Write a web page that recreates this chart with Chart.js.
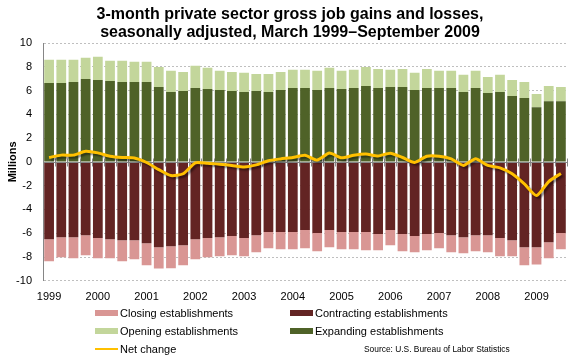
<!DOCTYPE html>
<html>
<head>
<meta charset="utf-8">
<script src="https://cdn.jsdelivr.net/npm/chart.js@4/dist/chart.umd.min.js"></script>
<style>
  html, body { margin: 0; padding: 0; background: #fff; }
  #wrap { position: relative; width: 580px; height: 360px; font-family: "Liberation Sans", Arial, sans-serif; }
  #c { position: absolute; left: 0; top: 0; }
  .lg { position: absolute; font-size: 11px; color: #000; white-space: nowrap; line-height: 14px; }
  .sw { position: absolute; width: 23px; }
  #src { position: absolute; left: 364px; top: 344px; font-size: 8.4px; color: #000; white-space: nowrap; }
</style>
</head>
<body>
<div id="wrap">
  <canvas id="c" width="580" height="360"></canvas>
  <div id="legend"></div>
  <div id="src">Source: U.S. Bureau of Labor Statistics</div>
</div>
<script>
// ---- Data (millions, quarterly, March 1999 – September 2009) ----
const quarters = [
  "Mar 1999","Jun 1999","Sep 1999","Dec 1999",
  "Mar 2000","Jun 2000","Sep 2000","Dec 2000",
  "Mar 2001","Jun 2001","Sep 2001","Dec 2001",
  "Mar 2002","Jun 2002","Sep 2002","Dec 2002",
  "Mar 2003","Jun 2003","Sep 2003","Dec 2003",
  "Mar 2004","Jun 2004","Sep 2004","Dec 2004",
  "Mar 2005","Jun 2005","Sep 2005","Dec 2005",
  "Mar 2006","Jun 2006","Sep 2006","Dec 2006",
  "Mar 2007","Jun 2007","Sep 2007","Dec 2007",
  "Mar 2008","Jun 2008","Sep 2008","Dec 2008",
  "Mar 2009","Jun 2009","Sep 2009"
];
const expanding = [6.64,6.64,6.72,6.98,6.89,6.81,6.72,6.72,6.72,6.30,5.88,5.96,6.21,6.13,6.05,5.96,5.88,5.96,5.88,6.05,6.21,6.21,6.05,6.21,6.13,6.21,6.38,6.21,6.30,6.30,6.05,6.21,6.21,6.21,5.88,6.21,5.79,5.88,5.54,5.37,4.60,5.11,5.11];
const opening = [1.95,1.95,1.87,1.78,1.95,1.69,1.78,1.70,1.70,1.69,1.78,1.61,1.87,1.78,1.61,1.61,1.61,1.44,1.52,1.52,1.53,1.53,1.61,1.70,1.53,1.53,1.61,1.61,1.44,1.52,1.44,1.61,1.45,1.45,1.44,1.45,1.36,1.44,1.35,1.35,1.11,1.27,1.19];
const contracting = [-6.50,-6.33,-6.33,-6.16,-6.41,-6.50,-6.58,-6.58,-6.84,-7.18,-7.09,-7.01,-6.50,-6.41,-6.33,-6.24,-6.41,-6.16,-5.90,-5.90,-5.90,-5.73,-5.99,-5.73,-5.90,-5.90,-5.90,-6.07,-5.73,-6.07,-6.24,-6.07,-5.99,-6.16,-6.33,-6.16,-6.16,-6.41,-6.58,-7.18,-7.18,-6.75,-5.99];
const closing = [-1.86,-1.69,-1.78,-1.69,-1.70,-1.61,-1.78,-1.61,-1.86,-1.78,-1.86,-1.69,-1.69,-1.61,-1.61,-1.61,-1.53,-1.44,-1.36,-1.44,-1.44,-1.53,-1.52,-1.45,-1.44,-1.44,-1.53,-1.36,-1.28,-1.44,-1.36,-1.36,-1.27,-1.44,-1.35,-1.35,-1.44,-1.53,-1.36,-1.52,-1.44,-1.36,-1.35];
const netChange = [0.37,0.57,0.57,0.90,0.76,0.48,0.37,0.33,-0.05,-0.65,-1.15,-1.00,-0.08,-0.12,-0.20,-0.30,-0.42,-0.25,0.10,0.25,0.37,0.56,0.15,0.75,0.34,0.56,0.66,0.50,0.73,0.37,-0.05,0.48,0.48,0.25,-0.30,0.27,-0.30,-0.50,-1.00,-1.85,-2.83,-1.65,-0.97];
const yearTicks = ["1999","2000","2001","2002","2003","2004","2005","2006","2007","2008","2009"];
const seriesNames = ["Closing establishments","Contracting establishments","Opening establishments","Expanding establishments","Net change"];

const COL = {
  closing: "#D99694",
  contracting: "#632423",
  opening: "#C3D69B",
  expanding: "#4F6228",
  net: "#FFC000"
};
const FONT = "'Liberation Sans', Arial, sans-serif";

const zeroAxisPlugin = {
  id: "zeroAxis",
  beforeDatasetDraw(chart, args) {
    const ds = chart.data.datasets[args.index];
    if (ds.type !== "line") return;
    const ctx = chart.ctx, x = chart.scales.x, y = chart.scales.y;
    const y0 = Math.round(y.getPixelForValue(0)) + 0.5;
    ctx.save();
    ctx.strokeStyle = "#868686";
    ctx.lineWidth = 1;
    ctx.beginPath();
    ctx.moveTo(chart.chartArea.left, y0);
    ctx.lineTo(chart.chartArea.right, y0);
    const n = quarters.length;
    const step = x.getPixelForValue(1) - x.getPixelForValue(0);
    for (let i = 0; i <= n; i++) {
      const px = Math.round(x.getPixelForValue(0) - step / 2 + i * step) + 0.5;
      ctx.moveTo(px, y0 - 4);
      ctx.lineTo(px, y0 + 4);
    }
    ctx.stroke();
    ctx.restore();
    // shadow for the net change line
    ctx.save();
    ctx.shadowColor = "rgba(0,0,0,0.45)";
    ctx.shadowOffsetX = 2;
    ctx.shadowOffsetY = 2;
    ctx.shadowBlur = 2;
  },
  afterDatasetDraw(chart, args) {
    const ds = chart.data.datasets[args.index];
    if (ds.type !== "line") return;
    chart.ctx.restore();
  }
};

const chart = new Chart(document.getElementById("c"), {
  data: {
    labels: quarters,
    datasets: [
      { type: "line", label: seriesNames[4], data: netChange, borderColor: COL.net, backgroundColor: COL.net,
        borderWidth: 3, pointRadius: 0, tension: 0.2, stack: "net", order: -1 },
      { type: "bar", label: seriesNames[3], data: expanding, backgroundColor: COL.expanding, stack: "jobs" },
      { type: "bar", label: seriesNames[2], data: opening, backgroundColor: COL.opening, stack: "jobs" },
      { type: "bar", label: seriesNames[1], data: contracting, backgroundColor: COL.contracting, stack: "jobs" },
      { type: "bar", label: seriesNames[0], data: closing, backgroundColor: COL.closing, stack: "jobs" }
    ]
  },
  options: {
    responsive: false,
    animation: false,
    layout: { padding: { left: 0, right: 0, top: 0, bottom: 46 } },
    datasets: { bar: { categoryPercentage: 1.0, barPercentage: 0.8 } },
    plugins: {
      legend: { display: false },
      tooltip: { enabled: false },
      title: {
        display: true,
        text: ["3-month private sector gross job gains and losses,", "seasonally adjusted, March 1999\u2013September 2009"],
        color: "#000",
        font: { family: FONT, size: 16, weight: "bold", lineHeight: "18px" },
        padding: { top: 6, bottom: 1 }
      }
    },
    scales: {
      x: {
        stacked: true,
        grid: { display: false, drawTicks: false },
        border: { display: false },
        ticks: {
          autoSkip: false, maxRotation: 0, padding: 10, color: "#000",
          font: { family: FONT, size: 11 },
          callback: function (v, i) {
            const q = quarters[i];
            if (q.startsWith("Mar")) {
              const yr = q.slice(4);
              return yearTicks.includes(yr) ? yr : "";
            }
            return "";
          }
        }
      },
      y: {
        stacked: true,
        min: -10, max: 10,
        afterFit(s) { s.width = 43; },
        ticks: { stepSize: 2, padding: 11, color: "#000", font: { family: FONT, size: 11 } },
        grid: {
          drawTicks: false,
          color: (c) => (c.tick && c.tick.value === 0 ? "rgba(0,0,0,0)" : "#BFBFBF"),
          lineWidth: 1
        },
        border: { display: true, color: "#868686", width: 1, dash: [2, 2] },
        title: { display: true, text: "Millions", color: "#000", padding: { top: 6, bottom: 0 },
          font: { family: FONT, size: 11, weight: "bold" } }
      },
      yPad: {
        type: "linear",
        position: "right",
        display: true,
        afterFit(s) { s.width = 13; },
        grid: { display: false, drawTicks: false },
        border: { display: false },
        ticks: { display: false }
      }
    }
  },
  plugins: [zeroAxisPlugin]
});

// ---- HTML legend in two columns ----
const legendItems = [
  { name: seriesNames[0], color: COL.closing, kind: "box", left: 95, top: 310 },
  { name: seriesNames[1], color: COL.contracting, kind: "box", left: 290, top: 310 },
  { name: seriesNames[2], color: COL.opening, kind: "box", left: 95, top: 328 },
  { name: seriesNames[3], color: COL.expanding, kind: "box", left: 290, top: 328 },
  { name: seriesNames[4], color: COL.net, kind: "line", left: 95, top: 346 }
];
const lg = document.getElementById("legend");
legendItems.forEach(it => {
  const sw = document.createElement("div");
  sw.className = "sw";
  sw.style.left = it.left + "px";
  sw.style.background = it.color;
  if (it.kind === "box") { sw.style.top = it.top + "px"; sw.style.height = "6px"; }
  else { sw.style.top = (it.top + 2) + "px"; sw.style.height = "2px"; }
  lg.appendChild(sw);
  const t = document.createElement("div");
  t.className = "lg";
  t.style.left = (it.left + 25) + "px";
  t.style.top = (it.top - 4) + "px";
  t.textContent = it.name;
  lg.appendChild(t);
});
</script>
</body>
</html>
